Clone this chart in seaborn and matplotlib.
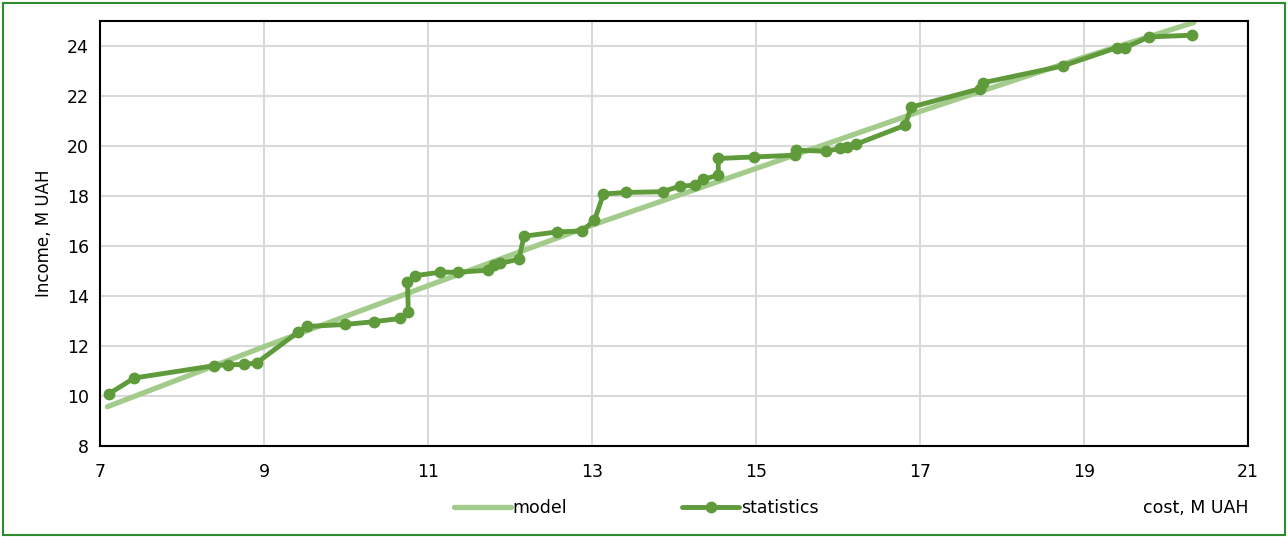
import numpy as np
import pandas as pd
import matplotlib.pyplot as plt
import seaborn as sns
from matplotlib.patches import Rectangle

# statistics: cost vs income, M UAH
cost = [7.11, 7.42, 8.39, 8.56, 8.76, 8.91, 9.41, 9.52, 9.99, 10.34, 10.66, 10.76,
        10.75, 10.84, 11.15, 11.36, 11.73, 11.80, 11.88, 12.11, 12.17, 12.57, 12.88,
        13.03, 13.14, 13.42, 13.86, 14.07, 14.26, 14.35, 14.54, 14.54, 14.98, 15.48,
        15.49, 15.85, 16.03, 16.11, 16.22, 16.82, 16.89, 17.73, 17.77, 18.74, 19.40,
        19.50, 19.79, 20.32]
income = [10.09, 10.72, 11.21, 11.25, 11.26, 11.32, 12.54, 12.78, 12.86, 12.97, 13.10,
          13.34, 14.56, 14.81, 14.95, 14.95, 15.03, 15.23, 15.30, 15.48, 16.39, 16.56,
          16.60, 17.03, 18.08, 18.14, 18.17, 18.39, 18.43, 18.66, 18.83, 19.50, 19.56,
          19.63, 19.83, 19.79, 19.90, 19.96, 20.07, 20.83, 21.55, 22.29, 22.53, 23.20,
          23.93, 23.93, 24.36, 24.43]

# model curve
model_cost = [7.09, 9.0, 11.0, 13.0, 15.0, 17.0, 19.0, 20.34]
model_income = [9.57, 11.97, 14.41, 16.83, 19.10, 21.38, 23.55, 24.94]

x_ticks = [7, 9, 11, 13, 15, 17, 19, 21]
y_ticks = [8, 10, 12, 14, 16, 18, 20, 22, 24]

sns.set_style("white")
plt.rcParams['font.family'] = ['DejaVu Sans']
plt.rcParams['text.color'] = 'black'
plt.rcParams['axes.labelcolor'] = 'black'

stats_df = pd.DataFrame({"cost": cost, "income": income})
model_df = pd.DataFrame({"cost": model_cost, "income": model_income})

fig = plt.figure(figsize=(12.88, 5.37), dpi=100)
ax = fig.add_axes([0.0776, 0.1695, 0.8914, 0.7915])

sns.lineplot(data=model_df, x="cost", y="income", ax=ax, color="#A3CB8B",
             linewidth=3.8, sort=False, estimator=None, label="model")
sns.lineplot(data=stats_df, x="cost", y="income", ax=ax, color="#5F9B3B",
             linewidth=3.5, sort=False, estimator=None, marker="o", markersize=8.5,
             markeredgewidth=0, label="statistics")

ax.set_xlim(7, 21)
ax.set_ylim(8, 25)
ax.set_xticks(x_ticks)
ax.set_yticks(y_ticks)
ax.tick_params(axis="both", length=0, labelsize=12.5, colors="#000000")
ax.tick_params(axis="x", pad=12)
ax.tick_params(axis="y", pad=8)
ax.grid(True, color="#D9D9D9", linewidth=1.5)
ax.set_axisbelow(True)
for s in ax.spines.values():
    s.set_color("#000000")
    s.set_linewidth(1.5)

ax.set_xlabel("")
ax.set_ylabel("Income, M UAH", fontsize=12, labelpad=10)
fig.text(0.969, 0.054, "cost, M UAH", ha="right", va="center", fontsize=12.5)

ax.legend(loc="center", bbox_to_anchor=(0.494, 0.054), bbox_transform=fig.transFigure,
          ncol=2, frameon=False, fontsize=12.5, handlelength=3.3, handletextpad=0.1,
          columnspacing=6.6)

fig.patches.append(Rectangle((0.002, 0.003), 0.996, 0.992, transform=fig.transFigure,
                             fill=False, edgecolor="#2E8B2E", linewidth=1.5))

fig.savefig("out.png", dpi=100)
